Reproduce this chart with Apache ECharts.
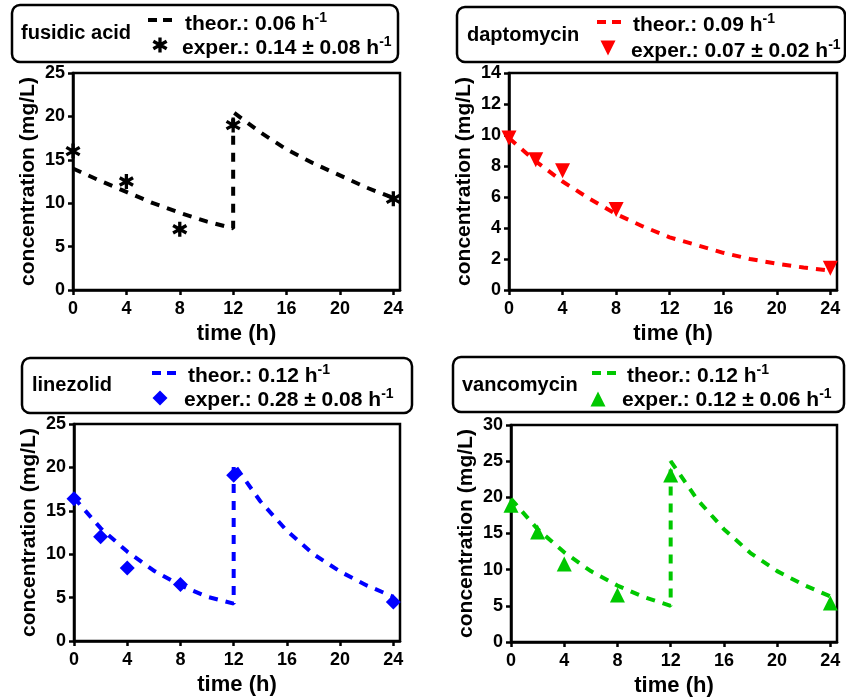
<!DOCTYPE html>
<html>
<head>
    <meta charset="UTF-8">
    <title>antibiotic concentration</title>
    <script src="https://cdn.jsdelivr.net/npm/echarts@6/dist/echarts.min.js"></script>
</head>
<body style="margin:0;">
    <div id="chart" style="width:846px; height:699px;"></div>
    <script>
        // time points (h)
        var theorTime = [0, 2, 4, 6, 8, 10, 12, 12, 14, 16, 18, 20, 22, 24];
        var daptoTheorTime = [0, 2, 4, 6, 8, 10, 12, 14, 16, 18, 20, 22, 24];
        var xTicks = [0, 4, 8, 12, 16, 20, 24];

        // fusidic acid
        var fusidicTheor = [14.0, 12.6, 11.3, 10.0, 8.9, 7.9, 7.1, 20.5, 18.2, 16.2, 14.6, 13.2, 11.8, 10.6];
        var fusidicExpTime = [0, 4, 8, 12, 24];
        var fusidicExp = [16.0, 12.5, 7.0, 19.0, 10.5];

        // daptomycin
        var daptoTheor = [9.8, 8.3, 7.0, 5.9, 4.9, 4.1, 3.4, 2.9, 2.4, 2.0, 1.7, 1.45, 1.25];
        var daptoExpTime = [0, 2, 4, 8, 24];
        var daptoExp = [9.8, 8.4, 7.7, 5.2, 1.4];

        // linezolid
        var linezolidTheor = [16.5, 13.0, 10.3, 8.1, 6.4, 5.1, 4.3, 20.4, 16.1, 12.7, 10.0, 8.0, 6.4, 5.1];
        var linezolidExpTime = [0, 2, 4, 8, 12, 24];
        var linezolidExp = [16.4, 12.0, 8.4, 6.5, 19.1, 4.5];

        // vancomycin
        var vancoTheor = [19.8, 15.6, 12.4, 9.8, 7.8, 6.2, 5.0, 25.0, 19.7, 15.6, 12.3, 9.8, 7.9, 6.3];
        var vancoExpTime = [0, 2, 4, 8, 12, 24];
        var vancoExp = [18.9, 15.2, 10.8, 6.5, 23.1, 5.4];

        var yMax = [25, 14, 25, 30];
        var yStep = [5, 2, 5, 5];

        var FONT = '"Liberation Sans", Arial, sans-serif';
        var asterisk = 'path://M-1.5,-7L1.5,-7L1.5,7L-1.5,7Z' +
            'M-6.81,-2.20L-5.31,-4.80L6.81,2.20L5.31,4.80Z' +
            'M-5.31,4.80L-6.81,2.20L5.31,-4.80L6.81,-2.20Z';

        function pairs(xs, ys) {
            return xs.map(function (x, i) { return [x, ys[i]]; });
        }

        var panels = [
            {name: 'fusidic acid', color: '#000000', tt: theorTime, theor: fusidicTheor,
             et: fusidicExpTime, exp: fusidicExp, symbol: asterisk, size: 15, rotate: 0},
            {name: 'daptomycin', color: '#ff0000', tt: daptoTheorTime, theor: daptoTheor,
             et: daptoExpTime, exp: daptoExp, symbol: 'triangle', size: 15, rotate: 180},
            {name: 'linezolid', color: '#0000ff', tt: theorTime, theor: linezolidTheor,
             et: linezolidExpTime, exp: linezolidExp, symbol: 'diamond', size: 15, rotate: 0},
            {name: 'vancomycin', color: '#00c800', tt: theorTime, theor: vancoTheor,
             et: vancoExpTime, exp: vancoExp, symbol: 'triangle', size: 15, rotate: 0}
        ];

        var grids = [
            {left: 73, top: 73, width: 327, height: 217},
            {left: 509, top: 73, width: 328, height: 217},
            {left: 74, top: 424, width: 326, height: 217},
            {left: 511, top: 425, width: 326, height: 217}
        ];

        var xAxes = [], yAxes = [], series = [];
        grids.forEach(function (g, i) {
            g.show = true;
            g.borderColor = '#000';
            g.borderWidth = 2.5;
            g.containLabel = false;
            xAxes.push({
                type: 'value', gridIndex: i, min: 0, max: 24.5,
                name: 'time (h)', nameLocation: 'middle', nameGap: 33,
                nameTextStyle: {fontFamily: FONT, fontWeight: 'bold', fontSize: 22, color: '#000'},
                axisLine: {show: true, lineStyle: {color: '#000', width: 2.5}},
                axisTick: {show: true, length: 5, lineStyle: {color: '#000', width: 2.5}, customValues: xTicks},
                axisLabel: {fontFamily: FONT, fontWeight: 'bold', fontSize: 18, color: '#000', margin: 10, customValues: xTicks},
                splitLine: {show: false}
            });
            yAxes.push({
                type: 'value', gridIndex: i, min: 0, max: yMax[i], interval: yStep[i],
                name: 'concentration (mg/L)', nameLocation: 'middle', nameGap: 34, nameRotate: 90,
                nameTextStyle: {fontFamily: FONT, fontWeight: 'bold', fontSize: 21, color: '#000'},
                axisLine: {show: true, lineStyle: {color: '#000', width: 2.5}},
                axisTick: {show: true, length: 5, lineStyle: {color: '#000', width: 2.5}},
                axisLabel: {fontFamily: FONT, fontWeight: 'bold', fontSize: 18, color: '#000', margin: 8},
                splitLine: {show: false}
            });
            var p = panels[i];
            series.push({
                type: 'line', xAxisIndex: i, yAxisIndex: i,
                data: pairs(p.tt, p.theor), showSymbol: false, symbol: 'none',
                lineStyle: {color: p.color, width: 4, type: [9, 8], cap: 'butt'},
                z: 2, silent: true
            });
            series.push({
                type: 'scatter', xAxisIndex: i, yAxisIndex: i,
                data: pairs(p.et, p.exp), symbol: p.symbol, symbolSize: p.size,
                symbolRotate: p.rotate, clip: false,
                itemStyle: {color: p.color, opacity: 1}, z: 3, silent: true
            });
        });

        // legend boxes
        var boxes = [
            {x: 12, y: 5, w: 386, h: 57, tx: 21, ty: 33, lx: 148, ly: 20, mx: 160, my: 45, ax: 185, ay: 23, bx: 182, by: 47,
             theor: '0.06', exper: '0.14 ± 0.08'},
            {x: 457, y: 7, w: 388, h: 55, tx: 467, ty: 35, lx: 597, ly: 22, mx: 608, my: 48, ax: 633, ay: 24, bx: 631, by: 50,
             theor: '0.09', exper: '0.07 ± 0.02'},
            {x: 22, y: 358, w: 390, h: 55, tx: 32, ty: 385, lx: 152, ly: 373, mx: 160, my: 398, ax: 188, ay: 375, bx: 184, by: 399,
             theor: '0.12', exper: '0.28 ± 0.08'},
            {x: 453, y: 357, w: 391, h: 55, tx: 462, ty: 385, lx: 592, ly: 373, mx: 598, my: 399, ax: 627, ay: 375, bx: 622, by: 399,
             theor: '0.12', exper: '0.12 ± 0.06'}
        ];
        var rich = {
            b: {fontFamily: FONT, fontWeight: 'bold', fontSize: 21, color: '#000', lineHeight: 24, verticalAlign: 'bottom'},
            s: {fontFamily: FONT, fontWeight: 'bold', fontSize: 14, color: '#000', lineHeight: 24, verticalAlign: 'top'}
        };
        var graphic = [];
        boxes.forEach(function (b, i) {
            var p = panels[i];
            graphic.push({type: 'rect', shape: {x: b.x, y: b.y, width: b.w, height: b.h, r: 8},
                style: {fill: '#fff', stroke: '#000', lineWidth: 2.5}, z: 10});
            graphic.push({type: 'text', x: b.tx, y: b.ty, z: 11,
                style: {text: p.name, font: 'bold 20px ' + FONT, fill: '#000', verticalAlign: 'middle'}});
            graphic.push({type: 'line', shape: {x1: b.lx, y1: b.ly, x2: b.lx + 24, y2: b.ly}, z: 11,
                style: {stroke: p.color, lineWidth: 4, lineDash: [9, 6]}});
            graphic.push({type: 'text', x: b.ax, y: b.ay, z: 11,
                style: {text: '{b|theor.: ' + b.theor + ' h}{s|-1}', rich: rich, verticalAlign: 'middle'}});
            graphic.push({type: 'text', x: b.bx, y: b.by, z: 11,
                style: {text: '{b|exper.: ' + b.exper + ' h}{s|-1}', rich: rich, verticalAlign: 'middle'}});
        });

        var chart = echarts.init(document.getElementById('chart'), null, {renderer: 'canvas'});
        chart.setOption({
            backgroundColor: '#fff',
            animation: false,
            grid: grids,
            xAxis: xAxes,
            yAxis: yAxes,
            series: series,
            graphic: graphic
        });

        // legend markers drawn with the same symbols as the series
        var extra = series.slice();
        panels.forEach(function (p, i) {
            var b = boxes[i];
            var pt = chart.convertFromPixel({gridIndex: i}, [b.mx, b.my]);
            extra.push({
                type: 'scatter', xAxisIndex: i, yAxisIndex: i,
                data: [pt], symbol: p.symbol, symbolSize: p.size,
                symbolRotate: p.rotate, clip: false, z: 20, zlevel: 1,
                itemStyle: {color: p.color, opacity: 1}, silent: true
            });
        });
        chart.setOption({series: extra});
    </script>
</body>
</html>
